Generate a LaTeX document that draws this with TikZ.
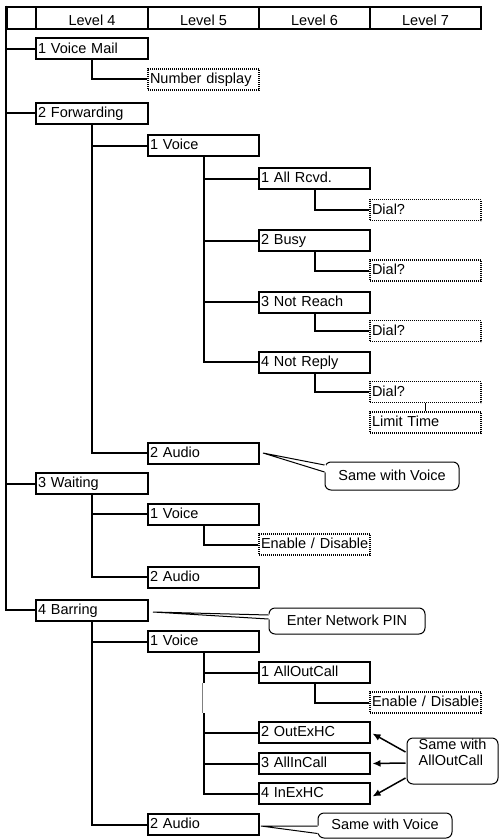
\documentclass[tikz,border=0pt]{standalone}
\usepackage{fontspec}
\setmainfont{Liberation Sans}
\usetikzlibrary{calc,arrows.meta}
\newcommand{\myfont}{\fontsize{14.5}{16}\selectfont}
\tikzset{
  base/.style={font=\myfont, text height=10.5pt, text depth=2.1pt, inner ysep=0pt, inner xsep=2pt, minimum height=21pt, align=left},
  box/.style={base, draw, line width=2pt, text width=107pt},
  boxfour/.style={base, draw, line width=2pt, text width=108pt},
  dbox/.style={base, draw, line width=1.6pt, dash pattern=on 1pt off 1pt, text width=107pt},
  hcell/.style={draw, line width=2pt, minimum height=22pt, inner sep=0pt, font=\myfont, text height=15.4pt, text depth=0pt},
  conn/.style={line width=2pt},
  callout/.style={draw, line width=1pt, rounded corners=6pt, fill=white, font=\myfont, text height=10.5pt, text depth=2.1pt, inner sep=0pt, align=left},
  wedge/.style={line width=1pt},
  arr/.style={line width=1.5pt, -{Latex[length=8pt,width=7pt]}}
}
\begin{document}
\begin{tikzpicture}[x=1pt,y=-1pt]
\useasboundingbox (0,0) rectangle (500,840);
% header
\node[hcell, minimum width=29pt] (h0) at (21.5,18) {};
\node[hcell, minimum width=112pt] (h4) at (92,18) {Level 4};
\node[hcell, minimum width=111pt] (h5) at (203.5,18) {Level 5};
\node[hcell, minimum width=111pt] (h6) at (314.5,18) {Level 6};
\node[hcell, minimum width=111pt] (h7) at (425.5,18) {Level 7};
% level 4
\node[boxfour] (vm) at (92,49) {1 Voice Mail};
\node[boxfour] (fw) at (92,113.5) {2 Forwarding};
\node[boxfour] (wt) at (92,483.5) {3 Waiting};
\node[boxfour] (br) at (92,610) {4 Barring};
% level 5
\node[dbox] (nd) at (203.5,79.5) {Number display};
\node[box] (fv) at (203.5,145.5) {1 Voice};
\node[box] (fa) at (203.5,453) {2 Audio};
\node[box] (wv) at (203.5,514) {1 Voice};
\node[box] (wa) at (203.5,577) {2 Audio};
\node[box] (bv) at (203.5,641.5) {1 Voice};
\node[box] (ba) at (203.5,824.5) {2 Audio};
% level 6
\node[box] (ar) at (314.5,178.5) {1 All Rcvd.};
\node[box] (bu) at (314.5,240.5) {2 Busy};
\node[box] (nr) at (314.5,302) {3 Not Reach};
\node[box] (np) at (314.5,362) {4 Not Reply};
\node[dbox] (wed) at (314.5,544.5) {\mbox{Enable / Disable}};
\node[box] (ao) at (314.5,672.5) {1 AllOutCall};
\node[box] (oe) at (314.5,732.5) {2 OutExHC};
\node[box] (ai) at (314.5,763.5) {3 AllInCall};
\node[box] (ie) at (314.5,793.5) {4 InExHC};
% level 7
\node[dbox] (d1) at (425.5,210) {Dial?};
\node[dbox] (d2) at (425.5,270.5) {Dial?};
\node[dbox] (d3) at (425.5,331) {Dial?};
\node[dbox] (d4) at (425.5,392) {Dial?};
\node[dbox] (lt) at (425.5,422.5) {Limit Time};
\node[dbox] (bed) at (425.5,702.5) {\mbox{Enable / Disable}};
% trunk
\draw[conn] (h0.north west) |- (vm.west);
\draw[conn] (h0.north west) |- (fw.west);
\draw[conn] (h0.north west) |- (wt.west);
\draw[conn] (h0.north west) |- (br.west);
% level 4 -> 5
\draw[conn] (vm.south) |- (nd.west);
\draw[conn] (fw.south) |- (fv.west);
\draw[conn] (fw.south) |- (fa.west);
\draw[conn] (wt.south) |- (wv.west);
\draw[conn] (wt.south) |- (wa.west);
\draw[conn] (br.south) |- (bv.west);
\draw[conn] (br.south) |- (ba.west);
% level 5 -> 6
\draw[conn] (fv.south) |- (ar.west);
\draw[conn] (fv.south) |- (bu.west);
\draw[conn] (fv.south) |- (nr.west);
\draw[conn] (fv.south) |- (np.west);
\draw[conn] (wv.south) |- (wed.west);
\draw[conn] (bv.south) |- (ao.west);
\draw[conn] (bv.south) |- (oe.west);
\draw[conn] (bv.south) |- (ai.west);
\draw[conn] (bv.south) |- (ie.west);
% gap artifact on the barring voice trunk
\draw[white, line width=2.4pt] ($(bv.south)+(0,30)$) -- ($(bv.south)+(0,60)$);
\draw[gray, line width=0.7pt] ($(bv.south)+(-0.9,30)$) -- ($(bv.south)+(-0.9,60)$);
% level 6 -> 7
\draw[conn] (ar.south) |- (d1.west);
\draw[conn] (bu.south) |- (d2.west);
\draw[conn] (nr.south) |- (d3.west);
\draw[conn] (np.south) |- (d4.west);
\draw[line width=1.5pt] (d4.south) -- (lt.north);
\draw[conn] (ao.south) |- (bed.west);
% callouts
\node[callout, minimum width=134pt, minimum height=28pt, align=center] (c1) at (392,476) {Same with Voice};
\coordinate (t1) at ($(fa.east)+(3,0)$);
\fill[white] (t1) -- ($(c1.west)+(1.5,-11.5)$) -- ($(c1.west)+(1.5,-3.5)$) -- cycle;
\draw[wedge] ($(c1.west)+(0,-11)$) -- (t1) -- ($(c1.west)+(0,-4)$);

\node[callout, minimum width=156pt, minimum height=26pt, align=center] (c2) at (347,621) {Enter Network PIN};
\coordinate (t2) at ($(br.east)+(4,2)$);
\fill[white] (t2) -- ($(c2.west)+(1.5,-6.5)$) -- ($(c2.west)+(1.5,-1.5)$) -- cycle;
\draw[wedge] ($(c2.west)+(0,-6)$) -- (t2) -- ($(c2.west)+(0,-2)$);

\node[callout, minimum width=134pt, minimum height=25pt, align=center] (c3) at (385,825.5) {Same with Voice};
\coordinate (t3) at ($(ba.east)+(1,1.5)$);
\fill[white] (t3) -- ($(c3.west)+(1.5,0)$) -- ($(c3.west)+(1.5,8)$) -- cycle;
\draw[wedge] ($(c3.west)+(0,0.5)$) -- (t3) -- ($(c3.west)+(0,8)$);

\node[callout, minimum width=91pt, minimum height=46pt] (sc) at (452.5,761) {Same with\\AllOutCall};
\draw[arr] ($(sc.west)+(-1,-9)$) -- ($(oe.east)+(1.5,1)$);
\draw[arr] ($(sc.west)+(-1,2)$) -- ($(ai.east)+(1.5,0)$);
\draw[arr] ($(sc.west)+(-1,17)$) -- ($(ie.east)+(1.5,3)$);
\end{tikzpicture}
\end{document}
